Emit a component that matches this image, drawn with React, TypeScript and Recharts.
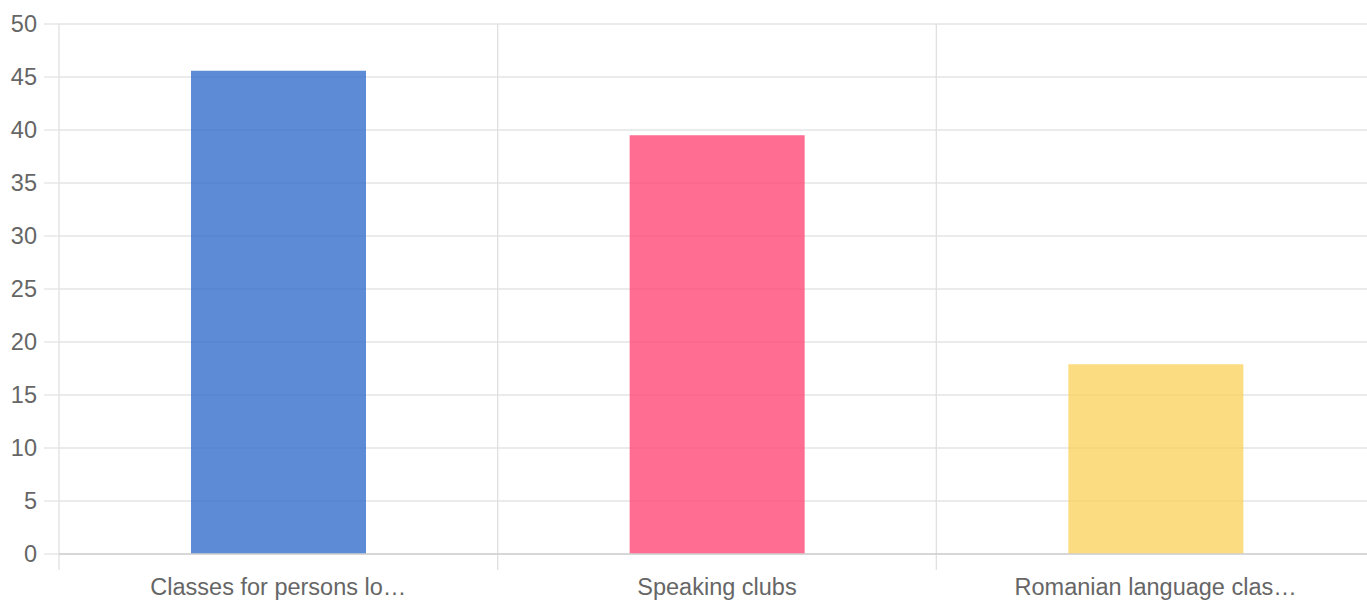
import React from "react";
import { BarChart, Bar, XAxis, YAxis, CartesianGrid, Cell } from "recharts";

const categories = ["Classes for persons lo…", "Speaking clubs", "Romanian language clas…"];
const values = [45.6, 39.5, 17.9];
const yTicks = [0, 5, 10, 15, 20, 25, 30, 35, 40, 45, 50];

const palette = ["rgba(54,110,204,0.8)", "rgba(255,72,120,0.8)", "rgba(249,208,87,0.75)"];

const data = categories.map((name, i) => ({ name, value: values[i] }));

const FONT = "Arial, 'Liberation Sans', Helvetica, sans-serif";

// vertical lines at the category band boundaries
const bandBoundaries = ({ offset }: any) => {
  const n = categories.length;
  const out: number[] = [];
  for (let i = 0; i <= n; i++) out.push(offset.left + (offset.width * i) / n);
  return out;
};

export default function App() {
  return (
    <div style={{ position: "absolute", left: 0, top: 0 }}>
      <BarChart
        width={1380}
        height={600}
        data={data}
        margin={{ top: 24, right: 5, left: 0, bottom: 0 }}
      >
        <CartesianGrid
          stroke="#e4e4e4"
          strokeWidth={1.3}
          vertical={false}
          horizontal={true}
        />
        <CartesianGrid
          stroke="#e0e0e0"
          strokeWidth={1.3}
          vertical={true}
          horizontal={false}
          y={24}
          height={546}
          verticalCoordinatesGenerator={bandBoundaries}
        />
        <XAxis
          dataKey="name"
          type="category"
          height={46}
          tickLine={false}
          axisLine={{ stroke: "#d0d0d0", strokeWidth: 1.5 }}
          tickSize={6}
          tickMargin={18}
          interval={0}
          tick={{ fill: "#666", fontSize: 23.5, fontFamily: FONT }}
        />
        <YAxis
          domain={[0, 50]}
          ticks={yTicks}
          width={59}
          tickSize={15}
          tickMargin={7}
          tickLine={{ stroke: "#e4e4e4", strokeWidth: 1.3 }}
          axisLine={false}
          tick={{ fill: "#666", fontSize: 23.5, fontFamily: FONT }}
          interval={0}
        />
        <Bar dataKey="value" barSize={175} isAnimationActive={false}>
          {data.map((d, i) => (
            <Cell key={d.name} fill={palette[i]} />
          ))}
        </Bar>
      </BarChart>
    </div>
  );
}
